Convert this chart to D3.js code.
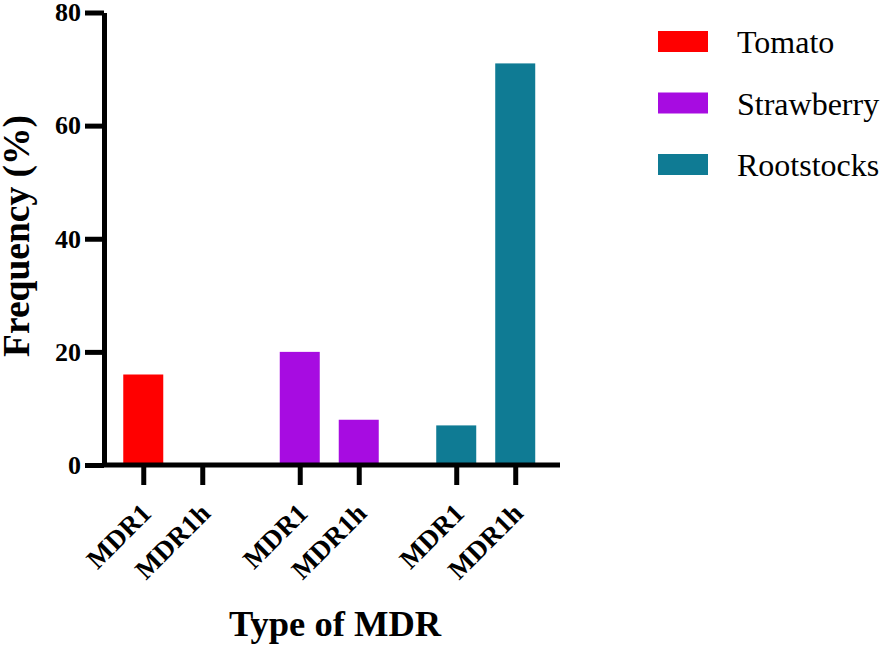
<!DOCTYPE html>
<html>
<head>
<meta charset="utf-8">
<script src="https://cdn.jsdelivr.net/npm/d3@7"></script>
</head>
<body style="margin:0">
<svg width="886" height="651"></svg>
<script>
// data
const groups = ["Tomato", "Strawberry", "Rootstocks"];
const types = ["MDR1", "MDR1h"];
const tomato = [16, 0];
const strawberry = [20, 8];
const rootstocks = [7, 71];
const colors = ["#ff0000", "#a70ce1", "#0f7b94"];
const yTicks = [0, 20, 40, 60, 80];

const font = "Liberation Serif";

const values = [tomato, strawberry, rootstocks];
const data = [];
groups.forEach((g, i) => {
    types.forEach((t, j) => {
        data.push({ key: g + "-" + t, group: g, type: t, value: values[i][j], color: colors[i] });
    });
});

const svg = d3.select("svg").style("font-family", font);
const plot = { left: 104, right: 560, bottom: 465, top: 12.5 };

const x0 = d3.scaleBand()
    .domain(groups)
    .range([plot.left, plot.right])
    .paddingInner(0.246)
    .paddingOuter(0.08)
    .align(0.39);

const x1 = d3.scaleBand()
    .domain(types)
    .range([0, x0.bandwidth()])
    .paddingInner(0.322)
    .paddingOuter(0.161);

const y = d3.scaleLinear()
    .domain([0, 80])
    .range([plot.bottom, plot.top]);

// one tick per bar, at the bar centre
const xTick = d3.scaleOrdinal()
    .domain(data.map(d => d.key))
    .range(data.map(d => x0(d.group) + x1(d.type) + x1.bandwidth() / 2));

// bars
svg.append("g")
    .selectAll("rect")
    .data(data.filter(d => d.value > 0))
    .join("rect")
    .attr("x", d => x0(d.group) + x1(d.type))
    .attr("y", d => y(d.value))
    .attr("width", x1.bandwidth())
    .attr("height", d => y(0) - y(d.value))
    .attr("fill", d => d.color);

// x axis
const xAxis = svg.append("g")
    .attr("transform", `translate(0, ${plot.bottom})`)
    .call(d3.axisBottom(xTick).tickSize(20).tickFormat(k => k.split("-")[1]));
xAxis.attr("font-family", null).attr("font-size", null);
xAxis.select(".domain").remove();
xAxis.append("line")
    .attr("x1", plot.left).attr("x2", plot.right)
    .attr("y1", 0).attr("y2", 0)
    .attr("stroke", "#000").attr("stroke-width", 5);
xAxis.selectAll(".tick line").attr("stroke-width", 5);
xAxis.selectAll(".tick text")
    .attr("x", 0).attr("y", 0).attr("dy", 0)
    .attr("transform", "translate(9, 50) rotate(-45)")
    .attr("text-anchor", "end")
    .attr("fill", "#000")
    .style("font-family", font)
    .style("font-weight", "bold")
    .style("font-size", "27px");

// y axis
const yAxis = svg.append("g")
    .attr("transform", `translate(${plot.left}, 0)`)
    .call(d3.axisLeft(y).tickValues(yTicks).tickSize(19).tickSizeOuter(0).tickPadding(4));
yAxis.attr("font-family", null).attr("font-size", null);
yAxis.select(".domain").attr("stroke-width", 5);
yAxis.selectAll(".tick line").attr("stroke-width", 5);
yAxis.selectAll(".tick text")
    .attr("fill", "#000")
    .style("font-family", font)
    .style("font-weight", "bold")
    .style("font-size", "26px");

// axis titles
svg.append("text")
    .attr("transform", "translate(29, 236) rotate(-90)")
    .attr("text-anchor", "middle")
    .style("font-family", font)
    .style("font-weight", "bold")
    .style("font-size", "37.5px")
    .text("Frequency (%)");

svg.append("text")
    .attr("x", 335)
    .attr("y", 636)
    .attr("text-anchor", "middle")
    .style("font-family", font)
    .style("font-weight", "bold")
    .style("font-size", "36.5px")
    .text("Type of MDR");

// legend
const legend = svg.append("g")
    .selectAll("g")
    .data(groups)
    .join("g")
    .attr("transform", (d, i) => `translate(658, ${31 + i * 61.5})`);
legend.append("rect")
    .attr("width", 50)
    .attr("height", 21)
    .attr("fill", (d, i) => colors[i]);
legend.append("text")
    .attr("x", 79)
    .attr("y", 22)
    .style("font-family", font)
    .style("font-size", "32px")
    .text(d => d);
</script>
</body>
</html>
